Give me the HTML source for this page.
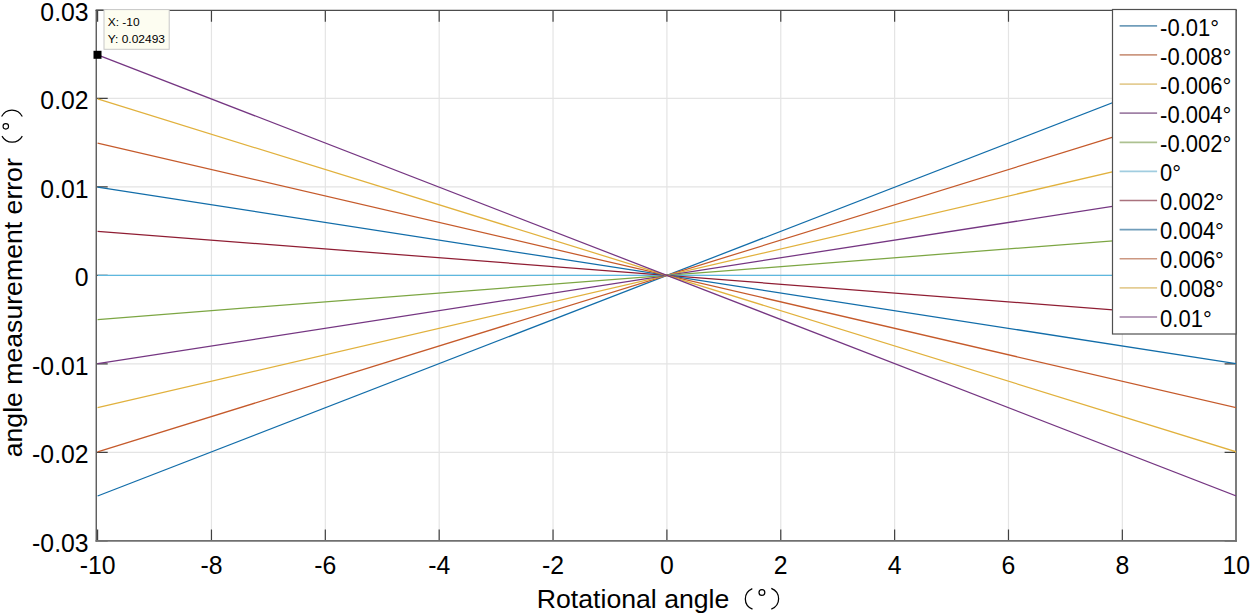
<!DOCTYPE html>
<html><head><meta charset="utf-8"><style>
html,body{margin:0;padding:0;background:#fff;width:1250px;height:616px;overflow:hidden}
svg{display:block}
</style></head><body>
<svg width="1250" height="616" viewBox="0 0 1250 616" font-family="Liberation Sans, sans-serif" fill="#000">
<rect width="1250" height="616" fill="#fff"/>
<path d="M211.46 10.35V540.8M325.32 10.35V540.8M439.18 10.35V540.8M553.04 10.35V540.8M666.90 10.35V540.8M780.76 10.35V540.8M894.62 10.35V540.8M1008.48 10.35V540.8M1122.34 10.35V540.8M96.3 452.34H1236.0M96.3 363.87H1236.0M96.3 275.40H1236.0M96.3 186.93H1236.0M96.3 98.46H1236.0" stroke="#e4e4e4" stroke-width="1.2" fill="none"/>
<path d="M97.60 540.8v-11.4M97.60 10.35v11.4M211.46 540.8v-11.4M211.46 10.35v11.4M325.32 540.8v-11.4M325.32 10.35v11.4M439.18 540.8v-11.4M439.18 10.35v11.4M553.04 540.8v-11.4M553.04 10.35v11.4M666.90 540.8v-11.4M666.90 10.35v11.4M780.76 540.8v-11.4M780.76 10.35v11.4M894.62 540.8v-11.4M894.62 10.35v11.4M1008.48 540.8v-11.4M1008.48 10.35v11.4M1122.34 540.8v-11.4M1122.34 10.35v11.4M1236.20 540.8v-11.4M1236.20 10.35v11.4M96.3 540.81h11.4M1236.0 540.81h-11.4M96.3 452.34h11.4M1236.0 452.34h-11.4M96.3 363.87h11.4M1236.0 363.87h-11.4M96.3 275.40h11.4M1236.0 275.40h-11.4M96.3 186.93h11.4M1236.0 186.93h-11.4M96.3 98.46h11.4M1236.0 98.46h-11.4M96.3 9.99h11.4M1236.0 9.99h-11.4" stroke="#404040" stroke-width="1.2" fill="none"/>
<path d="M96.275 9.7V541.66" stroke="#606060" stroke-width="1.45" fill="none"/>
<path d="M1236 9.7V541.66" stroke="#7c7c7c" stroke-width="2" fill="none"/>
<path d="M95.55 10.345H1237" stroke="#4c4c4c" stroke-width="1.31" fill="none"/>
<path d="M95.55 540.83H1237" stroke="#707070" stroke-width="1.66" fill="none"/>
<defs><clipPath id="c"><rect x="96.3" y="10.35" width="1139.7" height="530.4499999999999"/></clipPath></defs>
<g clip-path="url(#c)" fill="none" stroke-width="1.25">
<path d="M97.60 495.96L1236.20 54.84" stroke="#126da9"/>
<path d="M97.60 451.84L1236.20 98.96" stroke="#c55a2b"/>
<path d="M97.60 407.73L1236.20 143.07" stroke="#e1b13d"/>
<path d="M97.60 363.62L1236.20 187.18" stroke="#753682"/>
<path d="M97.60 319.51L1236.20 231.29" stroke="#7ca643"/>
<path d="M97.60 275.40L1236.20 275.40" stroke="#5eb8df"/>
<path d="M97.60 231.29L1236.20 319.51" stroke="#8f1d33"/>
<path d="M97.60 187.18L1236.20 363.62" stroke="#126da9"/>
<path d="M97.60 143.07L1236.20 407.73" stroke="#c55a2b"/>
<path d="M97.60 98.96L1236.20 451.84" stroke="#e1b13d"/>
<path d="M97.60 54.84L1236.20 495.96" stroke="#753682"/>
</g>
<text transform="translate(97.60 564.52) scale(1 1.065)" y="8.88" font-size="24.8" text-anchor="middle">-10</text>
<text transform="translate(211.46 564.52) scale(1 1.065)" y="8.88" font-size="24.8" text-anchor="middle">-8</text>
<text transform="translate(325.32 564.52) scale(1 1.065)" y="8.88" font-size="24.8" text-anchor="middle">-6</text>
<text transform="translate(439.18 564.52) scale(1 1.065)" y="8.88" font-size="24.8" text-anchor="middle">-4</text>
<text transform="translate(553.04 564.52) scale(1 1.065)" y="8.88" font-size="24.8" text-anchor="middle">-2</text>
<text transform="translate(666.90 564.52) scale(1 1.065)" y="8.88" font-size="24.8" text-anchor="middle">0</text>
<text transform="translate(780.76 564.52) scale(1 1.065)" y="8.88" font-size="24.8" text-anchor="middle">2</text>
<text transform="translate(894.62 564.52) scale(1 1.065)" y="8.88" font-size="24.8" text-anchor="middle">4</text>
<text transform="translate(1008.48 564.52) scale(1 1.065)" y="8.88" font-size="24.8" text-anchor="middle">6</text>
<text transform="translate(1122.34 564.52) scale(1 1.065)" y="8.88" font-size="24.8" text-anchor="middle">8</text>
<text transform="translate(1236.20 564.52) scale(1 1.065)" y="8.88" font-size="24.8" text-anchor="middle">10</text>
<text transform="translate(88.60 11.51) scale(1 1.065)" y="8.88" font-size="24.8" text-anchor="end">0.03</text>
<text transform="translate(88.60 99.98) scale(1 1.065)" y="8.88" font-size="24.8" text-anchor="end">0.02</text>
<text transform="translate(88.60 188.45) scale(1 1.065)" y="8.88" font-size="24.8" text-anchor="end">0.01</text>
<text transform="translate(88.60 276.92) scale(1 1.065)" y="8.88" font-size="24.8" text-anchor="end">0</text>
<text transform="translate(88.60 365.39) scale(1 1.065)" y="8.88" font-size="24.8" text-anchor="end">-0.01</text>
<text transform="translate(88.60 453.86) scale(1 1.065)" y="8.88" font-size="24.8" text-anchor="end">-0.02</text>
<text transform="translate(88.60 542.33) scale(1 1.065)" y="8.88" font-size="24.8" text-anchor="end">-0.03</text>
<text x="536.8" y="607.7" font-size="26.65">Rotational angle</text>
<g fill="none" stroke="#000" stroke-width="1.25"><path d="M752.3 588.6A12 11.3 0 0 0 752.5 609.2"/><circle cx="761.9" cy="592.4" r="2.9"/><path d="M771.3 588.4A12 11.3 0 0 1 771.3 609.2"/></g>
<text transform="translate(21.8 457.3) rotate(-90)" font-size="26.65">angle measurement error</text>
<g fill="none" stroke="#000" stroke-width="1.15"><path d="M2 136.1A11.66 12 0 0 0 22.3 136.1"/><circle cx="5.8" cy="126.3" r="2.75"/><path d="M1.6 116.6A11.65 12 0 0 1 22.3 116.6"/></g>
<rect x="1112.5" y="9.5" width="123.5" height="324.5" fill="#fff" stroke="#505050" stroke-width="1.2"/>
<path d="M1119.6 25.80H1157.1" stroke="#709dba" stroke-width="1.7"/>
<text transform="translate(1160.10 26.92) scale(1 1.1)" y="7.88" font-size="22">-0.01°</text>
<path d="M1119.6 54.92H1157.1" stroke="#cc9881" stroke-width="1.7"/>
<text transform="translate(1160.10 56.01) scale(1 1.1)" y="7.88" font-size="22">-0.008°</text>
<path d="M1119.6 84.04H1157.1" stroke="#e4cd94" stroke-width="1.7"/>
<text transform="translate(1160.10 85.10) scale(1 1.1)" y="7.88" font-size="22">-0.006°</text>
<path d="M1119.6 113.16H1157.1" stroke="#a081a6" stroke-width="1.7"/>
<text transform="translate(1160.10 114.19) scale(1 1.1)" y="7.88" font-size="22">-0.004°</text>
<path d="M1119.6 142.28H1157.1" stroke="#adc191" stroke-width="1.7"/>
<text transform="translate(1160.10 143.28) scale(1 1.1)" y="7.88" font-size="22">-0.002°</text>
<path d="M1119.6 171.40H1157.1" stroke="#a1cde0" stroke-width="1.7"/>
<text transform="translate(1160.10 172.37) scale(1 1.1)" y="7.88" font-size="22">0°</text>
<path d="M1119.6 200.52H1157.1" stroke="#a9727d" stroke-width="1.7"/>
<text transform="translate(1160.10 201.46) scale(1 1.1)" y="7.88" font-size="22">0.002°</text>
<path d="M1119.6 229.64H1157.1" stroke="#709dba" stroke-width="1.7"/>
<text transform="translate(1160.10 230.55) scale(1 1.1)" y="7.88" font-size="22">0.004°</text>
<path d="M1119.6 258.76H1157.1" stroke="#cc9881" stroke-width="1.7"/>
<text transform="translate(1160.10 259.64) scale(1 1.1)" y="7.88" font-size="22">0.006°</text>
<path d="M1119.6 287.88H1157.1" stroke="#e4cd94" stroke-width="1.7"/>
<text transform="translate(1160.10 288.73) scale(1 1.1)" y="7.88" font-size="22">0.008°</text>
<path d="M1119.6 317.00H1157.1" stroke="#a081a6" stroke-width="1.7"/>
<text transform="translate(1160.10 317.82) scale(1 1.1)" y="7.88" font-size="22">0.01°</text>
<rect x="104" y="9.6" width="65.2" height="39.7" fill="#fdfdf1" stroke="#c8c8c8" stroke-width="1"/>
<text transform="translate(107.70 25.90) scale(1 0.93)" y="0.00" font-size="12">X: -10</text>
<text transform="translate(107.70 42.50) scale(1 0.93)" y="0.00" font-size="12">Y: 0.02493</text>
<rect x="93.5" y="50.8" width="8" height="8" fill="#000"/>
</svg>
</body></html>
